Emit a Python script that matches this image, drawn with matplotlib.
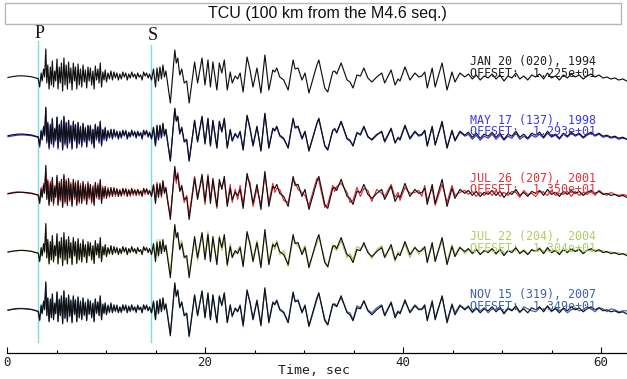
import matplotlib
matplotlib.use("Agg")
import matplotlib.pyplot as plt
from matplotlib.patches import Rectangle
from matplotlib.ticker import MultipleLocator

# ---------------- data ----------------
title = "TCU (100 km from the M4.6 seq.)"
x_label = "Time, sec"
phase_names = ["P", "S"]
phase_times = [3.13, 14.55]

event_labels = ["JAN 20 (020), 1994", "MAY 17 (137), 1998", "JUL 26 (207), 2001",
                "JUL 22 (204), 2004", "NOV 15 (319), 2007"]
offset_labels = ["OFFSET:  1.225e+01", "OFFSET:  1.293e+01", "OFFSET:  1.350e+01",
                 "OFFSET:  1.304e+01", "OFFSET:  1.349e+01"]

# sample times (s) of the digitised waveform knots
time_s = [
    0.10, 0.50, 1.00, 1.50, 2.00, 2.50, 2.90, 3.15,
    3.30, 3.45, 3.55, 3.70, 3.80, 3.92, 4.02, 4.12, 4.25, 4.38,
    4.48, 4.58, 4.70, 4.82, 4.92, 5.05, 5.15, 5.28, 5.38, 5.50,
    5.62, 5.75, 5.86, 5.98, 6.10, 6.22, 6.34, 6.45, 6.57, 6.70,
    6.82, 6.92, 7.05, 7.18, 7.30, 7.42, 7.55, 7.68, 7.80, 7.92,
    8.05, 8.18, 8.30, 8.42, 8.55, 8.68, 8.80, 8.92, 9.05, 9.18,
    9.30, 9.42, 9.55, 9.68, 9.80, 9.92, 10.05, 10.20, 10.35, 10.50,
    10.65, 10.80, 10.95, 11.10, 11.25, 11.40, 11.55, 11.70, 11.85, 12.00,
    12.15, 12.30, 12.45, 12.60, 12.75, 12.90, 13.05, 13.20, 13.35, 13.50,
    13.65, 13.80, 13.95, 14.10, 14.25, 14.40,
    14.60, 14.80, 15.00, 15.15, 15.30, 15.45, 15.60, 15.75, 15.90, 16.05,
    16.25, 16.50, 16.95, 17.10, 17.25, 17.45, 17.65, 17.90, 18.15, 18.40,
    18.95, 19.25, 19.70, 20.00, 20.30, 20.55, 20.80, 21.20, 21.45, 21.70,
    21.95, 22.25, 22.55, 22.75, 23.05, 23.30, 23.55, 23.85, 24.25, 24.55,
    24.85, 25.25, 25.65, 26.05, 26.45, 26.85, 27.05, 27.25, 27.55, 27.95,
    28.40, 28.90, 29.10, 29.40, 29.80, 30.10, 30.50, 31.30, 31.50, 32.10,
    32.40, 32.90, 33.10, 33.30, 33.75, 34.35, 34.65, 34.95, 35.35, 35.70,
    36.05, 36.45, 36.85, 37.35, 37.85, 38.15, 38.80, 39.20, 39.50, 39.70,
    40.20, 40.70, 41.20, 41.60, 41.90, 42.20, 42.45, 42.95, 43.25, 43.95,
    44.45, 44.95, 45.25, 45.75, 46.25,
    46.6, 47.0, 47.4, 47.8, 48.2, 48.6, 49.0, 49.4, 49.8, 50.2,
    50.6, 51.0, 51.4, 51.8, 52.2, 52.6, 53.0, 53.4, 53.8, 54.2,
    54.6, 55.0, 55.4, 55.8, 56.2, 56.6, 57.0, 57.4, 57.8, 58.2,
    58.6, 59.0, 59.4, 59.8, 60.2, 60.6, 61.0, 61.4, 61.8, 62.2,
    62.6,
]

# reference record (1994), amplitude in plot units (up positive)
amp_1994 = [
    -0.5, 0.3, 1.0, 1.2, 0.8, 0.2, -1.0, -1.5,
    -10, 4, -4, 8, 0, 28, -6, 12, -12, 10,
    -8, 16, -10, 6, -4, 18, -12, 10, -6, 14,
    -14, 19, -8, 12, -12, 15, -6, 9, -13, 14,
    -4, 10, -12, 13, -8, 8, -10, 12, -5, 7,
    -11, 10, -4, 9, -8, 6, -12, 11, -3, 8,
    -6, 14, -10, 5, -3, 7, -5, 4, -2, 6,
    -3, 5, -1, 4, -3, 3, -2, 5, 0, 4,
    -3, 3, -1, 5, 0, 3, -2, 4, 0, 2,
    -3, 5, 1, 4, -1, 3,
    -3, 8, -10, 9, -4, 10, -2, 12, 0, 6,
    -8, -26, 27, 14, 19, 2, 8, -6, -4, -26,
    15, -6, 19, -8, 17, -10, 15, -13, 14, 4,
    17, -13, 5, -6, 1, -2, 4, -15, 20, 7,
    -10, 9, -16, 22, -13, 7, 5, 9, 0, -3,
    -13, 17, 8, 9, -3, 4, -16, 12, 17, -11,
    -15, 5, 6, 3, 14, -3, -5, -11, 2, 1,
    9, -1, -5, 0, 4, -6, 7, -8, -2, -4,
    10, -3, 4, 0, 1, 5, -11, 9, -10, 14,
    -13, 5, -5, 4, 0,
    3, -2, 2, -3, 1, -1, 3, -2, 2, -4,
    1, -1, 4, -2, 1, -3, 2, 0, 3, -2,
    4, -1, 1, -3, 2, -1, 3, 0, 2, -2,
    1, 3, 0, 2, -1, 0, -2, -1, -3, -2,
    -4,
]

amp_1998 = [
    -1.5, -0.8, 0.0, 0.3, 0.0, -0.5, -1.5, -2.0,
    -12, 5, -5, 9, -1, 27, -8, 13, -14, 11,
    -9, 17, -12, 7, -6, 18, -14, 11, -7, 15,
    -15, 18, -10, 13, -13, 14, -8, 10, -14, 13,
    -6, 11, -13, 12, -9, 9, -12, 11, -7, 8,
    -12, 9, -6, 10, -9, 5, -13, 10, -5, 9,
    -8, 13, -11, 6, -5, 8, -6, 5, -3, 5,
    -4, 6, -2, 3, -4, 4, -3, 4, -1, 5,
    -4, 2, -2, 4, -1, 4, -3, 3, -1, 3,
    -4, 4, 0, 5, -2, 2,
    -4, 7, -11, 10, -5, 9, -3, 11, -1, 5,
    -9, -25, 26, 15, 18, 1, 7, -7, -5, -25,
    14, -7, 18, -9, 16, -11, 14, -12, 13, 3,
    16, -12, 6, -5, 2, -3, 3, -14, 19, 6,
    -11, 8, -15, 21, -12, 6, 4, 8, -1, -4,
    -12, 16, 7, 8, -4, 3, -15, 11, 16, -10,
    -14, 4, 7, 2, 13, -4, -6, -10, 3, 0,
    8, -2, -4, 1, 3, -7, 6, -7, -3, -5,
    9, -4, 3, -1, 0, 4, -10, 8, -9, 12,
    -12, 4, -6, 3, -1,
    1, -4, 0, -5, -1, -3, 1, -4, 0, -5,
    -1, -3, 2, -4, -1, -4, 0, -2, 1, -3,
    2, -2, 0, -4, 1, -2, 2, -1, 1, -3,
    0, 2, -1, 1, -2, -1, -3, -2, -4, -3,
    -4,
]

amp_2001 = [
    0.0, 0.8, 1.5, 1.0, 0.3, -0.3, -1.2, -2.0,
    -8, 6, -2, 10, 2, 25, -4, 14, -10, 12,
    -6, 14, -12, 8, -2, 16, -10, 12, -8, 12,
    -12, 17, -10, 14, -10, 13, -8, 11, -11, 12,
    -6, 12, -10, 11, -10, 10, -8, 10, -7, 9,
    -9, 12, -6, 7, -10, 8, -10, 9, -5, 10,
    -4, 12, -8, 7, -5, 5, -3, 6, -4, 4,
    -1, 6, -3, 5, -1, 4, -3, 4, -2, 5,
    -1, 4, -3, 3, -2, 4, 0, 3, -2, 3,
    -1, 4, -1, 5, 1, 2,
    -1, 9, -8, 11, -2, 8, -4, 13, 2, 4,
    -10, -22, 24, 10, 21, 4, 5, -9, -2, -22,
    17, -3, 15, -11, 19, -6, 12, -15, 10, 7,
    13, -10, 9, -9, 4, -6, 8, -11, 16, 11,
    -13, 5, -12, 18, -9, 10, 1, 5, 4, -7,
    -9, 13, 11, 4, 1, -2, -12, 15, 13, -14,
    -11, 8, 2, 7, 10, 1, -9, -7, 6, -3,
    5, 3, -8, 4, 0, -3, 9, -4, 1, -7,
    6, 0, 1, 3, -3, 8, -7, 5, -12, 9,
    -9, 8, -2, 1, 3,
    -1, 2, -3, 1, -2, 2, -2, 3, -3, 1,
    -2, 2, 1, -4, 3, -1, 0, -3, 2, 1,
    -2, 3, -2, 0, -1, 2, -3, 2, -2, 1,
    -1, 2, -2, 3, 0, -2, 1, -1, -2, -1,
    -2,
]

amp_2004 = [
    -0.5, 0.5, 0.8, 1.5, 1.2, 0.4, -0.8, -1.2,
    -9, 3, -5, 7, -2, 24, -7, 10, -13, 9,
    -9, 14, -11, 5, -5, 16, -13, 9, -7, 12,
    -12, 16, -9, 11, -13, 13, -7, 8, -12, 12,
    -5, 9, -11, 11, -9, 7, -11, 10, -6, 6,
    -10, 8, -5, 8, -9, 5, -11, 9, -4, 7,
    -7, 11, -9, 4, -4, 6, -4, 3, -3, 5,
    -2, 4, -2, 3, -2, 2, -1, 4, -1, 3,
    -2, 2, 0, 4, -1, 2, -1, 3, 1, 1,
    -2, 4, 2, 3, 0, 2,
    -2, 6, -7, 12, -6, 12, 0, 9, 3, 7,
    -6, -20, 22, 16, 14, 5, 11, -3, -8, -21,
    11, -9, 16, -4, 20, -7, 11, -9, 16, 1,
    13, -15, 8, -3, -2, 1, 6, -12, 15, 10,
    -7, 11, -12, 17, -10, 9, 2, 11, -3, 1,
    -15, 13, 10, 5, 0, 6, -13, 8, 14, -8,
    -16, 7, 3, 1, 11, -6, -2, -8, 5, 3,
    6, 1, -7, 2, 6, -4, 4, -10, 0, -2,
    7, -6, 5, -3, 3, 2, -8, 6, -7, 10,
    -10, 7, -3, 5, -2,
    2, -1, 3, -2, 0, 1, 2, -3, 3, -2,
    0, 1, 3, -1, 2, -2, 1, 1, 4, -1,
    2, 0, 2, -2, 3, 0, 1, 1, 3, -1,
    2, 1, 2, 0, 1, -1, 0, -2, -1, -3,
    -2,
]

amp_2007 = [
    -0.2, 0.6, 1.3, 1.4, 1.0, 0.4, -0.6, -1.8,
    -11, 5, -3, 9, 1, 26, -5, 11, -11, 11,
    -7, 15, -9, 7, -3, 17, -11, 11, -5, 13,
    -13, 18, -9, 11, -11, 14, -7, 10, -12, 13,
    -5, 9, -11, 12, -7, 9, -9, 11, -6, 8,
    -10, 11, -5, 8, -7, 7, -11, 10, -4, 7,
    -5, 13, -9, 6, -4, 6, -4, 5, -3, 7,
    -2, 4, -2, 5, -2, 2, -3, 4, -1, 5,
    -2, 4, -2, 4, -1, 2, -3, 5, 1, 3,
    -2, 4, 0, 5, 0, 2,
    -3, 9, -9, 8, -3, 11, -1, 11, 1, 5,
    -7, -24, 25, 13, 20, 3, 7, -5, -3, -27,
    14, -5, 18, -7, 15, -9, 14, -12, 13, 5,
    16, -12, 4, -7, 2, -1, 5, -17, 18, 8,
    -9, 10, -14, 20, -11, 8, 6, 10, 1, -2,
    -12, 18, 9, 10, -2, 5, -17, 10, 16, -9,
    -15, 6, 4, 4, 12, -2, -3, -10, 4, 2,
    9, 0, -3, 2, 5, -5, 8, -6, -1, -3,
    8, -2, 5, 1, 0, 3, -9, 7, -8, 13,
    -11, 6, -3, 5, 1,
    4, -3, 1, -1, 2, -3, 1, 0, 3, -3,
    2, 0, 2, -3, 3, 1, -1, -2, 2, 0,
    3, -2, 2, -1, 1, -3, 0, 2, -1, 0,
    3, 1, -2, 2, 1, -2, 1, 0, -2, -1,
    -1,
]

overlay_records = [None, amp_1998, amp_2001, amp_2004, amp_2007]

# ---------------- styling / layout ----------------
W, H = 627, 379
overlay_colors = [None, "#2f2fd6", "#ea2630", "#a9c85a", "#3f5fa8"]
text_colors = ["#202020", "#3a3ae6", "#e8303a", "#b2cc66", "#4262aa"]
baselines = [77.0, 135.2, 193.4, 251.6, 309.8]  # vertical positions (plot units)
x_left_px, px_per_s = 7.0, 9.9
t_max = (W - x_left_px) / px_per_s

fig = plt.figure(figsize=(W / 100, H / 100), dpi=100)
ax = fig.add_axes([x_left_px / W, 0, 1 - x_left_px / W, 1])
ax.set_xlim(0, t_max)
ax.set_ylim(H, 0)
for s in ["top", "left", "right"]:
    ax.spines[s].set_visible(False)
ax.spines["bottom"].set_position(("data", 353))
ax.spines["bottom"].set_linewidth(0.9)
ax.set_yticks([])
ax.set_xticks([0, 20, 40, 60])
ax.xaxis.set_minor_locator(MultipleLocator(5))
ax.tick_params(axis="x", which="major", direction="in", length=4.5, width=0.8,
               pad=2.5, labelsize=9, labelcolor="#202020")
ax.tick_params(axis="x", which="minor", direction="in", length=2.5, width=0.8)
for lab in ax.get_xticklabels():
    lab.set_family("DejaVu Sans Mono")

# phase markers
for name, tp in zip(phase_names, phase_times):
    top = 41 if name == "P" else 45
    ax.plot([tp, tp], [top, 342], color="#78dede", lw=1.0, zorder=1)
    ax.text(tp + 0.2, 33 if name == "P" else 36, name, family="Liberation Serif",
            fontsize=13, ha="center", va="center", color="#111111")

# traces
t_txt = (470 - x_left_px) / px_per_s
for i, base in enumerate(baselines):
    if overlay_records[i] is not None:
        ax.plot(time_s, [base - a for a in overlay_records[i]],
                color=overlay_colors[i], lw=0.85, zorder=2)
    ax.plot(time_s, [base - a for a in amp_1994], color="#111111", lw=0.85, zorder=3)
    ax.text(t_txt, base - 9.3, event_labels[i] + "\n" + offset_labels[i],
            family="DejaVu Sans Mono", fontsize=8.4, color=text_colors[i],
            ha="left", va="center", linespacing=0.85, zorder=5)

ax.text(t_max / 2 - 0.3, 371, x_label, family="DejaVu Sans Mono", fontsize=9.5,
        ha="center", va="center", color="#202020")

# title box
fig.add_artist(Rectangle((5 / W, 1 - 24 / H), 616 / W, 21 / H, transform=fig.transFigure,
                         fill=False, edgecolor="#b8b8b8", lw=1.0))
fig.text(327 / W, 1 - 13.5 / H, title, family="Liberation Sans", fontsize=11.5,
         ha="center", va="center", color="#111111")

fig.savefig("out.png", dpi=100)
